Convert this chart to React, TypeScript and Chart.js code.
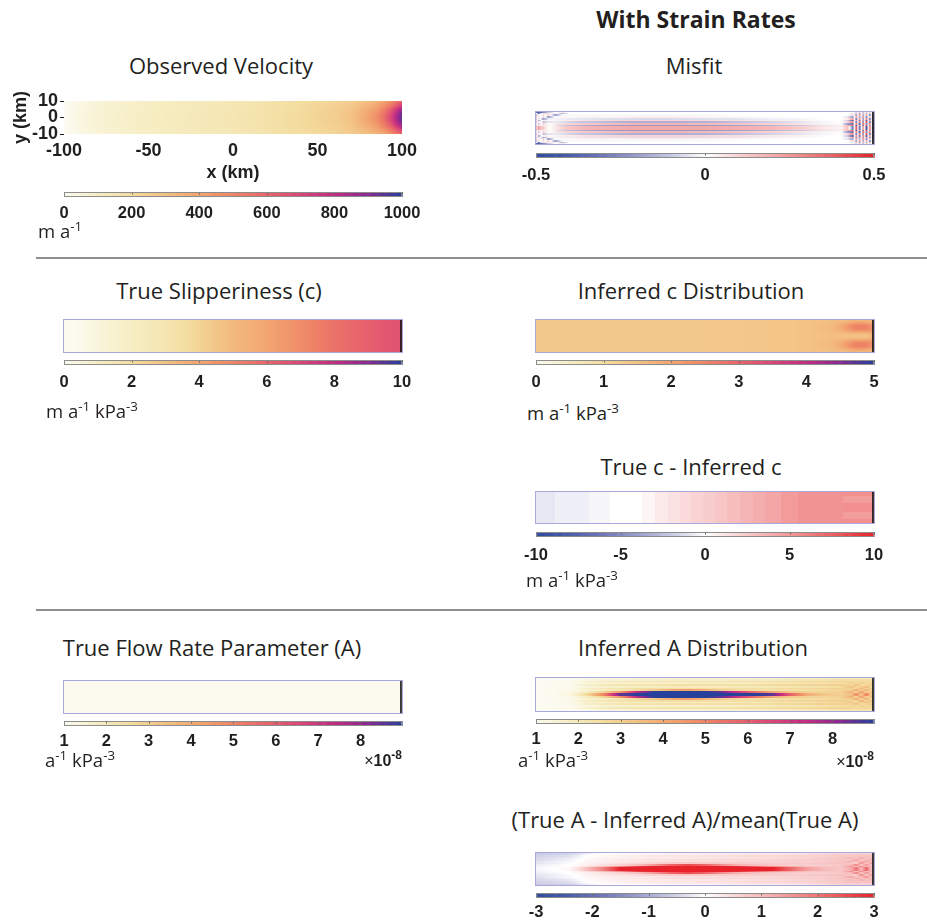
import React, { useEffect, useRef } from 'react';
import { Chart, registerables } from 'chart.js';

Chart.register(...registerables);

// ---------- colour maps ----------
type RGB = [number, number, number];
type Stop = [number, string];

const sunsetStops: Stop[] = [
  [0.0, '#fcfbf2'], [0.1, '#f6eec4'], [0.2, '#f3dc9e'], [0.3, '#f3c183'], [0.4, '#f2a470'],
  [0.5, '#ef8566'], [0.6, '#e8656b'], [0.7, '#da4677'], [0.8, '#c02c84'], [0.9, '#872a91'], [1.0, '#27409a'],
];
const blueRedStops: Stop[] = [
  [0.0, '#2f4b9f'], [0.1, '#4a5ea9'], [0.2, '#7077b8'], [0.3, '#9a9ecd'], [0.4, '#c7c9e3'],
  [0.5, '#ffffff'], [0.6, '#f9d3d3'], [0.7, '#f5adad'], [0.8, '#f08383'], [0.9, '#ec5558'], [1.0, '#e8222a'],
];

function hexRgb(h: string): RGB {
  const n = parseInt(h.slice(1), 16);
  return [(n >> 16) & 255, (n >> 8) & 255, n & 255];
}
function colourMap(stops: Stop[]) {
  const s = stops.map(([p, c]) => [p, hexRgb(c)] as [number, RGB]);
  return (t: number): RGB => {
    const u = Math.min(1, Math.max(0, t));
    for (let i = 1; i < s.length; i++) {
      if (u <= s[i][0]) {
        const [p0, c0] = s[i - 1];
        const [p1, c1] = s[i];
        const f = (u - p0) / (p1 - p0);
        return [c0[0] + (c1[0] - c0[0]) * f, c0[1] + (c1[1] - c0[1]) * f, c0[2] + (c1[2] - c0[2]) * f];
      }
    }
    return s[s.length - 1][1];
  };
}
const sunset = colourMap(sunsetStops);
const blueRed = colourMap(blueRedStops);

// ---------- data ----------
// Observed surface speed (m a^-1), node rows from the centreline outwards (glacier is symmetric in y)
const velX = [-100, -90, -80, -60, -40, -20, 0, 20, 40, 60, 70, 80, 85, 90, 94, 97, 100];
const velHalfY = [0, 2.5, 5, 7.5, 10];
const velRows = [
  [0, 40, 65, 95, 115, 130, 145, 170, 205, 250, 300, 400, 470, 590, 720, 850, 950],
  [0, 40, 65, 95, 115, 130, 145, 170, 205, 248, 295, 390, 455, 570, 700, 830, 935],
  [0, 38, 63, 93, 113, 128, 143, 168, 202, 243, 285, 370, 425, 525, 640, 760, 860],
  [0, 35, 60, 90, 110, 125, 140, 165, 198, 236, 272, 340, 385, 460, 550, 640, 720],
  [0, 30, 55, 85, 105, 120, 135, 160, 192, 228, 258, 310, 345, 400, 470, 540, 600],
];

// Velocity misfit, 1 km strips from the centreline outwards
const misfitX = [-100, -98, -95, -92, -88, -84, -80, -70, -55, -40, -20, 0, 20, 40, 55, 70, 80, 84, 87, 89, 91, 93, 95, 97, 99, 100];
const stripEdges = [0, 1, 2, 3, 4, 5, 6, 7, 8, 9, 10];
const misfitRows = [
  [0.1, 0.2, 0.1, 0, 0.05, 0.1, 0.14, 0.18, 0.2, 0.21, 0.21, 0.21, 0.2, 0.17, 0.12, 0.06, 0.03, 0.15, -0.3, 0.4, -0.35, 0.3, -0.4, 0.35, -0.3, 0],
  [-0.25, 0.1, -0.05, 0.05, -0.05, -0.09, -0.12, -0.17, -0.2, -0.22, -0.22, -0.21, -0.19, -0.15, -0.1, -0.05, -0.02, 0.2, 0.35, -0.4, 0.3, -0.35, 0.4, -0.3, 0.3, 0],
  [0.25, -0.1, 0.1, 0, 0.05, 0.08, 0.1, 0.13, 0.16, 0.18, 0.18, 0.17, 0.14, 0.1, 0.07, 0.03, 0.01, -0.2, -0.3, 0.35, -0.4, 0.4, -0.3, 0.35, -0.4, 0],
  [-0.25, 0.1, -0.1, -0.05, -0.04, -0.06, -0.08, -0.11, -0.14, -0.16, -0.16, -0.15, -0.12, -0.08, -0.05, -0.02, 0, 0.1, 0.3, -0.3, 0.35, -0.3, 0.4, -0.35, 0.3, 0],
  [0.25, -0.15, 0.05, 0.02, 0.03, 0.04, 0.05, 0.07, 0.09, 0.1, 0.1, 0.09, 0.07, 0.05, 0.03, 0.01, 0, -0.1, -0.35, 0.3, -0.3, 0.35, -0.35, 0.3, -0.3, 0],
  [-0.25, 0.1, -0.2, -0.02, -0.02, -0.03, -0.04, -0.05, -0.06, -0.07, -0.07, -0.06, -0.05, -0.03, -0.02, 0, 0, 0.05, 0.25, -0.3, 0.3, -0.25, 0.3, -0.3, 0.25, 0],
  [0.25, -0.05, 0.1, -0.2, 0.01, 0.02, 0.02, 0.03, 0.03, 0.04, 0.04, 0.03, 0.02, 0.01, 0, 0, 0, -0.05, -0.2, 0.25, -0.2, 0.3, -0.25, 0.2, -0.25, 0],
  [-0.25, 0.05, -0.05, 0.1, -0.2, -0.01, -0.01, -0.01, -0.01, -0.01, -0.01, -0.01, 0, 0, 0, 0, 0, 0, 0.1, -0.2, 0.25, -0.2, 0.2, -0.25, 0.2, 0],
  [0.25, -0.3, 0.1, 0.05, 0.05, -0.15, 0, 0, 0, 0, 0, 0, 0, 0, 0, 0, 0, 0, -0.05, 0.15, -0.2, 0.2, -0.15, 0.2, -0.2, 0],
  [-0.3, -0.4, -0.25, -0.1, 0, 0.05, 0, 0, 0, 0, 0, 0, 0, 0, 0, 0, 0, 0, 0, -0.1, 0.15, -0.15, 0.15, -0.1, 0.1, 0],
];

// True slipperiness c (m a^-1 kPa^-3), uniform across the channel
const trueCX = [-100, -90, -80, -70, -60, -50, -40, -30, -20, -10, 0, 10, 20, 30, 40, 50, 60, 70, 80, 90, 100];
const trueCValues = [0, 0.15, 0.45, 0.75, 1.0, 1.25, 1.5, 1.85, 2.3, 2.8, 3.3, 3.6, 3.95, 4.35, 4.75, 5.2, 5.6, 5.9, 6.2, 6.45, 6.6];

// Inferred c, node rows from the centreline outwards
const infCX = [-100, -60, -20, 20, 50, 65, 75, 80, 84, 88, 92, 95, 97, 99, 100];
const infCHalfY = [0, 2, 4, 6, 8, 10];
const infCRows = [
  [1.35, 1.35, 1.35, 1.37, 1.42, 1.5, 1.55, 1.5, 1.42, 1.38, 1.38, 1.42, 1.48, 1.65, 1.65],
  [1.35, 1.35, 1.35, 1.37, 1.42, 1.5, 1.6, 1.68, 1.75, 1.8, 1.8, 1.85, 1.9, 1.95, 1.95],
  [1.35, 1.35, 1.35, 1.37, 1.42, 1.52, 1.65, 1.85, 2.15, 2.45, 2.55, 2.5, 2.35, 2.25, 2.25],
  [1.35, 1.35, 1.35, 1.37, 1.42, 1.52, 1.65, 1.9, 2.25, 2.55, 2.6, 2.55, 2.4, 2.25, 2.25],
  [1.35, 1.35, 1.35, 1.37, 1.42, 1.5, 1.58, 1.68, 1.82, 1.95, 2.0, 1.95, 1.85, 1.75, 1.75],
  [1.35, 1.35, 1.35, 1.37, 1.42, 1.5, 1.55, 1.55, 1.55, 1.55, 1.55, 1.55, 1.55, 1.55, 1.55],
];

// True c - inferred c, piecewise-constant bands along flow
const diffCEdges = [-100, -88, -68, -56, -37, -29.5, -22, -14.5, -8, -1, 6, 13, 20.5, 28.5, 35.5, 44.5, 55, 81, 100];
const diffCBands = [-0.9, -0.6, -0.3, 0, 0.45, 0.95, 1.3, 1.7, 2.0, 2.3, 2.7, 3.1, 3.6, 3.95, 4.4, 4.9, 5.25];
const diffCYEdges = [-10, -7, -3, 3, 7, 10];
const diffCFrontBand = [5.4, 4.7, 5.4, 4.7, 5.4];

// True flow-rate parameter A (x 1e-8 a^-1 kPa^-3)
const trueAX = [-100, 100];
const trueAValues = [1.05, 1.05];

// Inferred A (x 1e-8), 1 km strips from the centreline outwards
const infAX = [-100, -90, -80, -75, -70, -60, -50, -40, -30, -20, -10, 0, 10, 20, 30, 40, 50, 60, 70, 80, 86, 89, 92, 95, 98, 100];
const infARows = [
  [1.0, 1.05, 1.3, 1.8, 2.6, 4.8, 8.5, 9, 9, 9, 9, 9, 9, 9, 9, 8.5, 6.0, 4.0, 3.2, 2.9, 3.4, 4.8, 3.2, 5.2, 2.8, 1.8],
  [1.0, 1.05, 1.2, 1.4, 1.8, 2.8, 4.5, 7.5, 9, 9, 9, 9, 8.5, 7.0, 5.5, 4.0, 3.2, 2.9, 2.8, 2.9, 3.8, 2.8, 4.4, 2.9, 3.4, 1.8],
  [1.0, 1.0, 1.1, 1.3, 1.5, 1.8, 2.1, 2.6, 3.2, 4.0, 4.4, 3.8, 3.0, 2.6, 2.4, 2.3, 2.4, 2.5, 2.6, 2.8, 3.0, 4.0, 2.8, 3.8, 2.6, 1.8],
  [1.0, 1.05, 1.15, 1.4, 1.8, 2.1, 2.3, 2.4, 2.5, 2.5, 2.5, 2.5, 2.5, 2.5, 2.5, 2.6, 2.7, 2.8, 2.9, 3.0, 2.8, 2.6, 3.8, 2.7, 3.4, 1.8],
  [1.0, 1.0, 1.05, 1.2, 1.4, 1.6, 1.7, 1.8, 1.8, 1.9, 1.9, 1.9, 1.9, 2.0, 2.0, 2.1, 2.2, 2.3, 2.4, 2.6, 3.4, 2.7, 3.0, 3.6, 2.6, 1.8],
  [1.0, 1.05, 1.15, 1.35, 1.7, 2.0, 2.2, 2.3, 2.3, 2.4, 2.4, 2.4, 2.4, 2.5, 2.5, 2.6, 2.7, 2.8, 2.9, 3.0, 2.7, 3.4, 2.6, 2.8, 3.0, 1.8],
  [1.0, 1.0, 1.05, 1.15, 1.35, 1.5, 1.6, 1.7, 1.7, 1.7, 1.7, 1.8, 1.8, 1.8, 1.9, 2.0, 2.1, 2.2, 2.3, 2.5, 2.8, 2.6, 3.0, 2.6, 2.8, 1.8],
  [1.0, 1.05, 1.1, 1.3, 1.6, 1.9, 2.1, 2.2, 2.2, 2.3, 2.3, 2.3, 2.3, 2.4, 2.4, 2.5, 2.6, 2.7, 2.8, 2.9, 2.7, 2.8, 2.6, 2.8, 2.6, 1.8],
  [1.0, 1.0, 1.0, 1.1, 1.3, 1.45, 1.5, 1.6, 1.6, 1.7, 1.7, 1.7, 1.7, 1.8, 1.8, 1.9, 2.0, 2.1, 2.2, 2.4, 2.5, 2.4, 2.5, 2.4, 2.4, 1.8],
  [1.0, 1.0, 1.0, 1.0, 1.1, 1.2, 1.3, 1.4, 1.4, 1.4, 1.5, 1.5, 1.5, 1.5, 1.6, 1.6, 1.7, 1.8, 1.9, 2.0, 2.1, 2.1, 2.1, 2.1, 2.1, 1.8],
];

// Relative A error, 1 km strips from the centreline outwards
const ratioRows = [
  [-0.1, 0, 0.1, 0.4, 0.9, 1.8, 3, 3, 3, 3, 3, 3, 3, 3, 3, 3, 2.2, 1.4, 1.0, 0.8, 1.2, 2.0, 1.0, 2.2, 0.8, 0.5],
  [-0.15, -0.05, 0.05, 0.2, 0.4, 0.9, 1.6, 2.6, 3, 3, 3, 3, 3, 2.8, 2.2, 1.6, 1.2, 0.9, 0.8, 0.8, 1.6, 0.8, 1.8, 0.9, 1.2, 0.5],
  [-0.2, -0.1, 0, 0.1, 0.2, 0.4, 0.6, 0.9, 1.5, 2.2, 2.5, 2.2, 1.6, 1.1, 0.9, 0.8, 0.7, 0.7, 0.7, 0.8, 1.0, 1.8, 0.8, 1.5, 0.8, 0.5],
  [-0.3, -0.2, -0.05, 0.05, 0.15, 0.3, 0.4, 0.5, 0.6, 0.7, 0.75, 0.75, 0.7, 0.7, 0.7, 0.7, 0.7, 0.75, 0.8, 0.9, 0.8, 0.7, 1.6, 0.8, 1.4, 0.5],
  [-0.35, -0.2, -0.1, 0, 0.1, 0.2, 0.25, 0.3, 0.35, 0.4, 0.4, 0.45, 0.45, 0.5, 0.5, 0.55, 0.6, 0.65, 0.7, 0.8, 1.3, 0.8, 1.0, 1.5, 0.8, 0.5],
  [-0.4, -0.3, -0.15, -0.05, 0.1, 0.2, 0.3, 0.35, 0.4, 0.45, 0.45, 0.5, 0.5, 0.55, 0.55, 0.6, 0.65, 0.7, 0.75, 0.85, 0.8, 1.3, 0.8, 1.0, 1.1, 0.5],
  [-0.45, -0.35, -0.25, -0.1, 0.05, 0.15, 0.2, 0.25, 0.3, 0.3, 0.35, 0.35, 0.4, 0.4, 0.45, 0.5, 0.55, 0.6, 0.7, 0.8, 1.0, 0.8, 1.2, 0.8, 1.0, 0.5],
  [-0.5, -0.45, -0.35, -0.2, 0, 0.1, 0.2, 0.25, 0.3, 0.35, 0.35, 0.4, 0.4, 0.45, 0.5, 0.5, 0.55, 0.6, 0.65, 0.75, 0.8, 0.9, 0.8, 0.9, 0.8, 0.5],
  [-0.55, -0.5, -0.45, -0.3, -0.1, 0.05, 0.1, 0.15, 0.2, 0.25, 0.25, 0.3, 0.3, 0.35, 0.4, 0.4, 0.45, 0.5, 0.6, 0.7, 0.7, 0.7, 0.75, 0.7, 0.7, 0.5],
  [-0.6, -0.55, -0.5, -0.4, -0.2, 0, 0.05, 0.1, 0.1, 0.15, 0.15, 0.2, 0.2, 0.25, 0.3, 0.3, 0.35, 0.4, 0.5, 0.6, 0.6, 0.6, 0.6, 0.6, 0.6, 0.5],
];

// calving-front position (km)
const frontX = 98.8;

// ---------- field tables ----------
interface Field { xs: number[]; ys: number[]; grid: number[][]; xCells: boolean; yCells: boolean; }

function mirrorNodes(xs: number[], halfY: number[], rows: number[][]): Field {
  const ys = [...halfY.slice(1).map((y) => -y).reverse(), ...halfY];
  const grid = [...rows.slice(1).reverse(), ...rows];
  return { xs, ys, grid, xCells: false, yCells: false };
}
function mirrorStrips(xs: number[], halfEdges: number[], rows: number[][]): Field {
  const ys = [...halfEdges.slice(1).map((y) => -y).reverse(), ...halfEdges];
  const grid = [...rows.slice().reverse(), ...rows];
  return { xs, ys, grid, xCells: false, yCells: true };
}

const velField = mirrorNodes(velX, velHalfY, velRows);
const misfitField = mirrorStrips(misfitX, stripEdges, misfitRows);
const trueCField: Field = { xs: trueCX, ys: [-10, 10], grid: [trueCValues], xCells: false, yCells: true };
const infCField = mirrorNodes(infCX, infCHalfY, infCRows);
const diffCField: Field = {
  xs: diffCEdges, ys: diffCYEdges,
  grid: diffCFrontBand.map((v) => [...diffCBands, v]), xCells: true, yCells: true,
};
const trueAField: Field = { xs: trueAX, ys: [-10, 10], grid: [trueAValues], xCells: false, yCells: true };
const infAField = mirrorStrips(infAX, stripEdges, infARows);
const ratioField = mirrorStrips(infAX, stripEdges, ratioRows);

function bracket(arr: number[], v: number, cells: boolean): [number, number, number] {
  const n = arr.length;
  if (cells) {
    let i = 0;
    while (i < n - 2 && v >= arr[i + 1]) i++;
    return [i, i, 0];
  }
  if (v <= arr[0]) return [0, 0, 0];
  if (v >= arr[n - 1]) return [n - 1, n - 1, 0];
  let i = 0;
  while (v > arr[i + 1]) i++;
  return [i, i + 1, (v - arr[i]) / (arr[i + 1] - arr[i])];
}
function sample(f: Field, x: number, y: number) {
  const [i0, i1, tx] = bracket(f.xs, x, f.xCells);
  const [j0, j1, ty] = bracket(f.ys, y, f.yCells);
  const at = (j: number, i: number) => f.grid[j]?.[i] ?? 0;
  const a = at(j0, i0) * (1 - tx) + at(j0, i1) * tx;
  const b = at(j1, i0) * (1 - tx) + at(j1, i1) * tx;
  return a * (1 - ty) + b * ty;
}

// ---------- plugins ----------
function rasterPlugin(field: Field, cmap: (t: number) => RGB, vmin: number, vmax: number, framed: boolean) {
  return {
    id: 'fieldRaster',
    beforeDatasetsDraw(chart: any) {
      const { ctx, chartArea: a, scales } = chart;
      const sx = scales.x, sy = scales.y;
      const x0 = Math.round(a.left), y0 = Math.round(a.top);
      const w = Math.round(a.right) - x0, h = Math.round(a.bottom) - y0;
      const img = ctx.createImageData(w, h);
      for (let py = 0; py < h; py++) {
        const yv = sy.getValueForPixel(y0 + py + 0.5);
        for (let px = 0; px < w; px++) {
          const xv = sx.getValueForPixel(x0 + px + 0.5);
          const c = cmap((sample(field, xv, yv) - vmin) / (vmax - vmin));
          const k = (py * w + px) * 4;
          img.data[k] = c[0]; img.data[k + 1] = c[1]; img.data[k + 2] = c[2]; img.data[k + 3] = 255;
        }
      }
      const off = document.createElement('canvas');
      off.width = w; off.height = h;
      off.getContext('2d')!.putImageData(img, 0, 0);
      ctx.drawImage(off, x0, y0);
      if (framed) {
        ctx.save();
        const fx = sx.getPixelForValue(frontX);
        ctx.strokeStyle = '#111';
        ctx.lineWidth = 1.6;
        ctx.beginPath(); ctx.moveTo(fx, y0); ctx.lineTo(fx, y0 + h); ctx.stroke();
        ctx.strokeStyle = '#a7a9dc';
        ctx.lineWidth = 1;
        ctx.strokeRect(x0 + 0.5, y0 + 0.5, w - 1, h - 1);
        ctx.restore();
      }
    },
  };
}

function colourBarPlugin(cmap: (t: number) => RGB, vmin: number, vmax: number) {
  return {
    id: 'colourBar',
    beforeDatasetsDraw(chart: any) {
      const { ctx, chartArea: a, scales: { x } } = chart;
      const n = 300;
      for (let i = 0; i < n; i++) {
        const v0 = vmin + ((vmax - vmin) * i) / n;
        const v1 = vmin + ((vmax - vmin) * (i + 1)) / n;
        const p0 = x.getPixelForValue(v0), p1 = x.getPixelForValue(v1);
        const c = cmap((i + 0.5) / n);
        ctx.fillStyle = `rgb(${c[0] | 0},${c[1] | 0},${c[2] | 0})`;
        ctx.fillRect(p0, a.top, p1 - p0 + 0.6, a.bottom - a.top);
      }
      ctx.save();
      ctx.strokeStyle = '#666';
      ctx.lineWidth = 1;
      x.ticks.forEach((t: any) => {
        const p = Math.round(x.getPixelForValue(t.value)) + 0.5;
        ctx.beginPath(); ctx.moveTo(p, a.top); ctx.lineTo(p, a.top + 2.5); ctx.stroke();
      });
      ctx.strokeStyle = '#8c8c8c';
      ctx.strokeRect(Math.round(a.left) + 0.5, Math.round(a.top) + 0.5, Math.round(a.right - a.left) - 1, Math.round(a.bottom - a.top) - 1);
      ctx.restore();
    },
  };
}

// ---------- chart components ----------
const ink = '#1f1f1f';
const numFamily = '"Liberation Sans", Arial, Helvetica, sans-serif';
const textFamily = '"Open Sans", "Noto Sans", sans-serif';
const quiet = { legend: { display: false }, tooltip: { enabled: false } };

function useChart(build: (c: HTMLCanvasElement) => Chart) {
  const ref = useRef<HTMLCanvasElement>(null);
  useEffect(() => {
    const chart = build(ref.current as HTMLCanvasElement);
    return () => chart.destroy();
  }, []);
  return ref;
}

function FieldPanel(p: { left: number; top: number; width: number; height: number; field: Field; cmap: (t: number) => RGB; vmin: number; vmax: number }) {
  const ref = useChart((c) => new Chart(c, {
    type: 'scatter',
    data: { datasets: [] },
    options: {
      responsive: false, animation: false, events: [],
      layout: { padding: 0 },
      plugins: quiet as any,
      scales: {
        x: { type: 'linear', min: -100, max: 100, display: false },
        y: { type: 'linear', min: -10, max: 10, display: false },
      },
    },
    plugins: [rasterPlugin(p.field, p.cmap, p.vmin, p.vmax, true)],
  }));
  return <canvas ref={ref} width={p.width} height={p.height} style={{ position: 'absolute', left: p.left, top: p.top, width: p.width, height: p.height }} />;
}

function VelocityPanel() {
  const axisFont = { family: numFamily, size: 18, weight: 'bold' as const };
  const ref = useChart((c) => new Chart(c, {
    type: 'scatter',
    data: { datasets: [] },
    options: {
      responsive: false, animation: false, events: [],
      layout: { padding: { left: 0, top: 21, right: 28, bottom: 0 } },
      plugins: quiet as any,
      scales: {
        x: {
          type: 'linear', min: -100, max: 100, position: 'bottom',
          ticks: { stepSize: 50, padding: 6, font: axisFont, color: ink, maxRotation: 0, autoSkip: false, callback: (v: any) => String(v) },
          grid: { display: false, drawTicks: false }, border: { display: false },
          title: { display: true, text: 'x (km)', font: axisFont, color: ink, padding: { top: 0, bottom: 6 } },
          afterFit: (s: any) => { s.height = 56; },
        },
        y: {
          type: 'linear', min: -10, max: 10, position: 'left',
          ticks: { stepSize: 10, padding: 2, font: axisFont, color: ink, autoSkip: false, callback: (v: any) => String(v) },
          grid: { display: true, drawOnChartArea: false, drawTicks: true, tickLength: 4, color: ink },
          border: { display: false },
          title: { display: true, text: 'y (km)', font: axisFont, color: ink, padding: { top: 10, bottom: 0 } },
          afterFit: (s: any) => { s.width = 64; },
        },
      },
    } as any,
    plugins: [rasterPlugin(velField, sunset, 0, 1000, false)],
  }));
  return <canvas ref={ref} width={430} height={110} style={{ position: 'absolute', left: 0, top: 80, width: 430, height: 110 }} />;
}

function ColourBar(p: { left: number; top: number; width: number; cmap: (t: number) => RGB; vmin: number; vmax: number; step: number; gap: number }) {
  const side = 30, padTop = 2, barH = 5, below = 32;
  const W = p.width + 2 * side, H = padTop + barH + below;
  const ref = useChart((c) => new Chart(c, {
    type: 'scatter',
    data: { datasets: [] },
    options: {
      responsive: false, animation: false, events: [],
      layout: { padding: { left: side, right: side, top: padTop, bottom: 0 } },
      plugins: quiet as any,
      scales: {
        x: {
          type: 'linear', min: p.vmin, max: p.vmax, position: 'bottom',
          ticks: {
            stepSize: p.step, includeBounds: false, autoSkip: false, maxRotation: 0, padding: p.gap,
            font: { family: numFamily, size: 16.5, weight: 'bold' }, color: ink, callback: (v: any) => String(v),
          },
          grid: { display: false, drawTicks: false }, border: { display: false },
          afterFit: (s: any) => { s.height = below; },
        },
        y: { type: 'linear', min: 0, max: 1, display: false },
      },
    } as any,
    plugins: [colourBarPlugin(p.cmap, p.vmin, p.vmax)],
  }));
  return <canvas ref={ref} width={W} height={H} style={{ position: 'absolute', left: p.left - side, top: p.top - padTop, width: W, height: H }} />;
}

// ---------- text ----------
const Sup = ({ children }: { children: React.ReactNode }) => (
  <sup style={{ fontSize: '0.72em', verticalAlign: '0.55em', lineHeight: 0 }}>{children}</sup>
);

function Title({ cx, top, children, bold = false, size = 22 }: { cx: number; top: number; children: React.ReactNode; bold?: boolean; size?: number }) {
  return (
    <div style={{ position: 'absolute', left: cx, top, transform: 'translateX(-50%)', whiteSpace: 'nowrap', fontFamily: textFamily, fontWeight: bold ? 700 : 400, fontSize: size, lineHeight: `${size}px`, color: '#231f20' }}>
      {children}
    </div>
  );
}

function Unit({ left, top, children }: { left: number; top: number; children: React.ReactNode }) {
  return (
    <div style={{ position: 'absolute', left, top, whiteSpace: 'nowrap', fontFamily: textFamily, fontSize: 18.5, lineHeight: '18.5px', color: '#231f20' }}>
      {children}
    </div>
  );
}

function Exponent({ right, top }: { right: number; top: number }) {
  return (
    <div style={{ position: 'absolute', left: right, top, transform: 'translateX(-100%)', whiteSpace: 'nowrap', fontFamily: numFamily, fontSize: 16, lineHeight: '16px', color: ink }}>
      ×<b>10</b><sup style={{ fontSize: '0.75em', verticalAlign: '0.6em', lineHeight: 0, fontWeight: 700 }}>-8</sup>
    </div>
  );
}

const Rule = ({ top }: { top: number }) => (
  <div style={{ position: 'absolute', left: 36, top, width: 891, height: 2, background: '#8f8f8f' }} />
);

const cKPa = <>m a<Sup>-1</Sup> kPa<Sup>-3</Sup></>;
const aKPa = <>a<Sup>-1</Sup> kPa<Sup>-3</Sup></>;

export default function App() {
  return (
    <div style={{ position: 'absolute', left: 0, top: 0, width: 927, height: 922, background: '#fff', overflow: 'hidden' }}>
      <Title cx={696} top={8} bold size={23}>With Strain Rates</Title>

      {/* row 1 */}
      <Title cx={221} top={54}>Observed Velocity</Title>
      <VelocityPanel />
      <ColourBar left={64} top={192} width={338} cmap={sunset} vmin={0} vmax={1000} step={200} gap={6.4} />
      <Unit left={38} top={221.5}>m a<Sup>-1</Sup></Unit>

      <Title cx={694} top={54}>Misfit</Title>
      <FieldPanel left={535} top={111} width={340} height={34} field={misfitField} cmap={blueRed} vmin={-0.5} vmax={0.5} />
      <ColourBar left={536} top={153} width={338} cmap={blueRed} vmin={-0.5} vmax={0.5} step={0.5} gap={8} />

      <Rule top={257} />

      {/* row 2 */}
      <Title cx={219} top={279}>True Slipperiness (c)</Title>
      <FieldPanel left={63} top={319} width={340} height={34} field={trueCField} cmap={sunset} vmin={0} vmax={10} />
      <ColourBar left={64} top={360} width={338} cmap={sunset} vmin={0} vmax={10} step={2} gap={7.8} />
      <Unit left={46} top={402}>{cKPa}</Unit>

      <Title cx={691} top={279}>Inferred c Distribution</Title>
      <FieldPanel left={535} top={319} width={340} height={34} field={infCField} cmap={sunset} vmin={0} vmax={5} />
      <ColourBar left={536} top={360} width={338} cmap={sunset} vmin={0} vmax={5} step={1} gap={7.8} />
      <Unit left={527} top={403.5}>{cKPa}</Unit>

      <Title cx={691} top={455}>True c - Inferred c</Title>
      <FieldPanel left={535} top={491} width={340} height={33} field={diffCField} cmap={blueRed} vmin={-10} vmax={10} />
      <ColourBar left={536} top={532} width={338} cmap={blueRed} vmin={-10} vmax={10} step={5} gap={8.4} />
      <Unit left={526} top={570.5}>{cKPa}</Unit>

      <Rule top={609} />

      {/* row 3 */}
      <Title cx={212} top={636}>True Flow Rate Parameter (A)</Title>
      <FieldPanel left={63} top={680} width={340} height={34} field={trueAField} cmap={sunset} vmin={1} vmax={8.98} />
      <ColourBar left={64} top={721} width={338} cmap={sunset} vmin={1} vmax={8.98} step={1} gap={6} />
      <Unit left={45} top={750.5}>{aKPa}</Unit>
      <Exponent right={402} top={753} />

      <Title cx={693} top={636}>Inferred A Distribution</Title>
      <FieldPanel left={535} top={677} width={340} height={35} field={infAField} cmap={sunset} vmin={1} vmax={8.98} />
      <ColourBar left={536} top={719} width={338} cmap={sunset} vmin={1} vmax={8.98} step={1} gap={6} />
      <Unit left={518} top={751}>{aKPa}</Unit>
      <Exponent right={874} top={754} />

      <Title cx={685} top={808}>(True A - Inferred A)/mean(True A)</Title>
      <FieldPanel left={535} top={852} width={340} height={34} field={ratioField} cmap={blueRed} vmin={-3} vmax={3} />
      <ColourBar left={536} top={893} width={338} cmap={blueRed} vmin={-3} vmax={3} step={1} gap={4.8} />
    </div>
  );
}
